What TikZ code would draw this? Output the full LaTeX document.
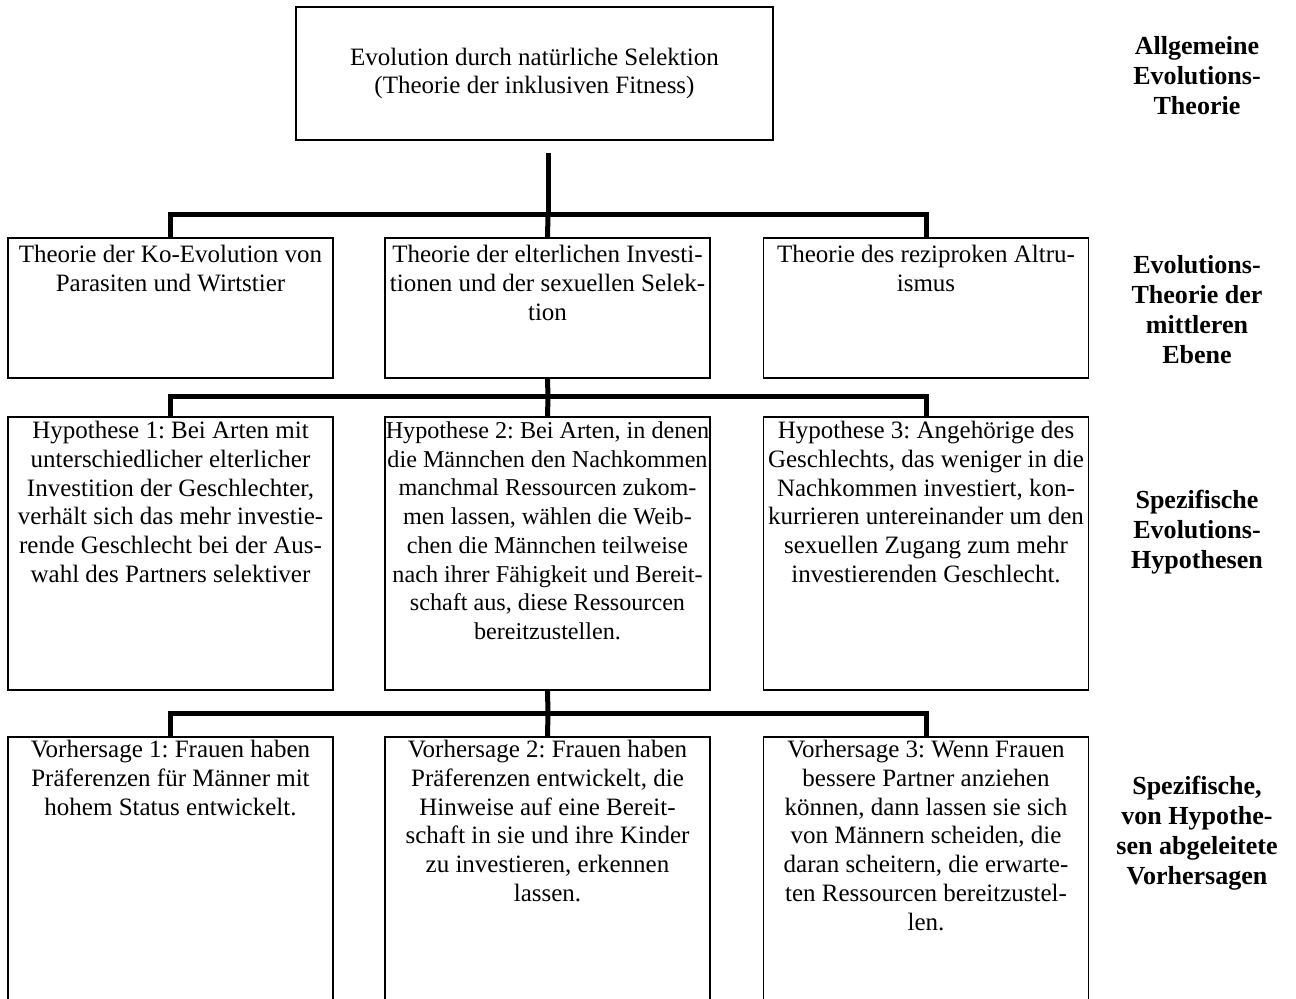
\documentclass[tikz,border=0pt]{standalone}
\usepackage{fontspec}
\setmainfont{Liberation Serif}
\frenchspacing
\usetikzlibrary{positioning}

\begin{document}
\begin{tikzpicture}[x=0.48pt,y=-0.48pt,
    box/.style={draw,line width=0.7pt,minimum width=156pt,inner sep=0pt},
    txt/.style={align=center,inner sep=0pt,font={\fontsize{12}{13.8}\selectfont}},
    lbl/.style={align=center,inner sep=0pt,font={\fontsize{12.5}{14.4}\selectfont\bfseries}},
    conn/.style={line width=2.4pt}]
  \useasboundingbox (0,0) rectangle (1296,999);
  % top level
  \node[box,txt,line width=1pt,minimum width=229pt,minimum height=63.8pt] (top) at (534.5,73.5)
    {Evolution durch natürliche Selektion\\(Theorie der inklusiven Fitness)};
  % middle-level theories
  \node[box,minimum height=67.2pt] (t1) at (170.5,308) {};
  \node[box,minimum height=67.2pt] (t2) at (547.5,308) {};
  \node[box,minimum height=67.2pt] (t3) at (926,308) {};
  \node[txt,below=3.6pt of t1.north] (t1x) {Theorie der Ko-Evolution von\\Parasiten und Wirtstier};
  \node[txt,below=3.6pt of t2.north] (t2x) {Theorie der elterlichen Investi-\\tionen und der sexuellen Selek-\\tion};
  \node[txt,below=3.6pt of t3.north] (t3x) {Theorie des reziproken Altru-\\ismus};
  % hypotheses
  \node[box,minimum height=131pt] (h1) at (170.5,553.5) {};
  \node[box,minimum height=131pt] (h2) at (547.5,553.5) {};
  \node[box,minimum height=131pt] (h3) at (926,553.5) {};
  \node[txt,below=2.2pt of h1.north] (h1x) {Hypothese 1: Bei Arten mit\\unterschiedlicher elterlicher\\Investition der Geschlechter,\\verhält sich das mehr investie-\\rende Geschlecht bei der Aus-\\wahl des Partners selektiver};
  \node[txt,font={\fontsize{11.6}{13.8}\selectfont},below=2.4pt of h2.north] (h2x) {Hypothese 2: Bei Arten, in denen\\die Männchen den Nachkommen\\manchmal Ressourcen zukom-\\men lassen, wählen die Weib-\\chen die Männchen teilweise\\nach ihrer Fähigkeit und Bereit-\\schaft aus, diese Ressourcen\\bereitzustellen.};
  \node[txt,below=2.2pt of h3.north] (h3x) {Hypothese 3: Angehörige des\\Geschlechts, das weniger in die\\Nachkommen investiert, kon-\\kurrieren untereinander um den\\sexuellen Zugang zum mehr\\investierenden Geschlecht.};
  % predictions (run off the page)
  \node[box,minimum height=131.5pt] (v1) at (170.5,874) {};
  \node[box,minimum height=131.5pt] (v2) at (547.5,874) {};
  \node[box,minimum height=131.5pt] (v3) at (926,874) {};
  \node[txt,below=1.7pt of v1.north] (v1x) {Vorhersage 1: Frauen haben\\Präferenzen für Männer mit\\hohem Status entwickelt.};
  \node[txt,below=1.7pt of v2.north] (v2x) {Vorhersage 2: Frauen haben\\Präferenzen entwickelt, die\\Hinweise auf eine Bereit-\\schaft in sie und ihre Kinder\\zu investieren, erkennen\\lassen.};
  \node[txt,below=1.7pt of v3.north] (v3x) {Vorhersage 3: Wenn Frauen\\bessere Partner anziehen\\können, dann lassen sie sich\\von Männern scheiden, die\\daran scheitern, die erwarte-\\ten Ressourcen bereitzustel-\\len.};
  % level labels
  \node[lbl] (l1) at (1197,76) {Allgemeine\\Evolutions-\\Theorie};
  \node[lbl] (l2) at (1197,310) {Evolutions-\\Theorie der\\mittleren\\Ebene};
  \node[lbl] (l3) at (1197,532) {Spezifische\\Evolutions-\\Hypothesen};
  \node[lbl] (l4) at (1197,833) {Spezifische,\\von Hypothe-\\sen abgeleitete\\Vorhersagen};
  % connectors
  \coordinate (stem) at (548,153);
  \coordinate (j1) at (548,215);
  \coordinate (j2) at (548,397);
  \coordinate (j3) at (548,713);
  \draw[conn] (stem) -- (j1);
  \draw[conn] (t1.north) |- (j1) -| (t3.north);
  \draw[conn] (j1) -- (t2.north);
  \draw[conn] (t2.south) -- (j2);
  \draw[conn] (h1.north) |- (j2) -| (h3.north);
  \draw[conn] (j2) -- (h2.north);
  \draw[conn] (h2.south) -- (j3);
  \draw[conn] (v1.north) |- (j3) -| (v3.north);
  \draw[conn] (j3) -- (v2.north);
\end{tikzpicture}
\end{document}
